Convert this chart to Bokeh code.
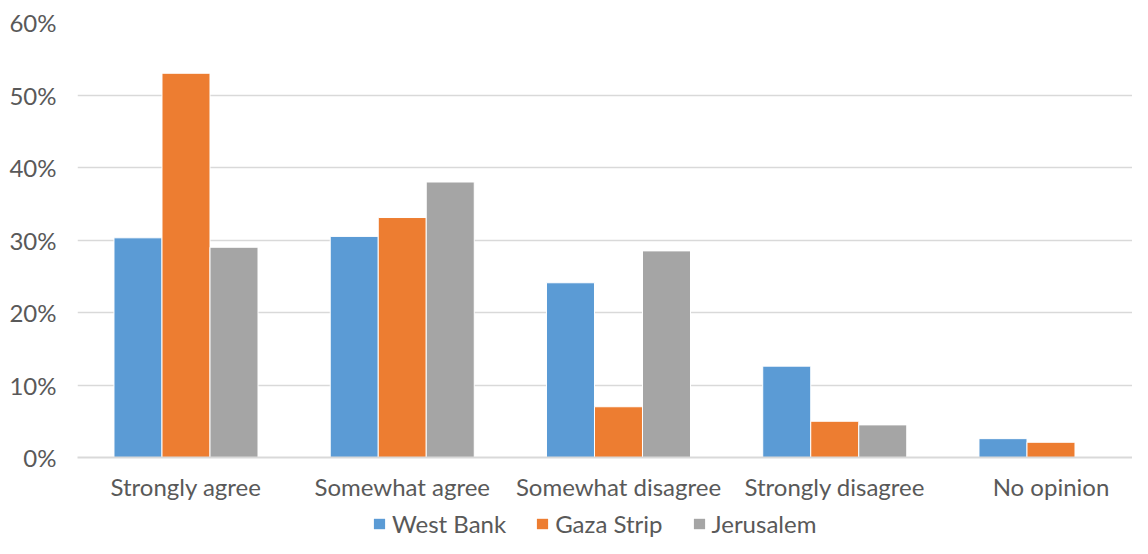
from bokeh.plotting import figure
from bokeh.layouts import column
from bokeh.models import ColumnDataSource, Range1d, Legend, LegendItem, PrintfTickFormatter, FixedTicker
from bokeh.transform import dodge
from bokeh.embed import file_html
from bokeh.resources import INLINE

categories = ["Strongly agree", "Somewhat agree", "Somewhat disagree", "Strongly disagree", "No opinion"]
west_bank = [30.3, 30.5, 24.1, 12.6, 2.6]
gaza_strip = [53.0, 33.1, 7.0, 5.0, 2.1]
jerusalem = [29.0, 38.0, 28.5, 4.5, 0.0]
series_names = ["West Bank", "Gaza Strip", "Jerusalem"]
colors = ["#5B9BD5", "#ED7D31", "#A5A5A5"]
y_ticks = [0, 10, 20, 30, 40, 50, 60]

pos = list(range(len(categories)))
src = ColumnDataSource(dict(pos=pos, wb=west_bank, gz=gaza_strip, je=jerusalem))

font = "Lato"
text_color = "#595959"
fs = "24px"

p = figure(x_range=Range1d(-0.5017, 4.3769), y_range=Range1d(0, 60),
           width=1132, height=503, output_backend="svg", toolbar_location=None,
           min_border_left=77, min_border_right=0, min_border_top=22, min_border_bottom=42)
p.outline_line_color = None

bw = 0.222
renderers = []
for col, off, c in zip(["wb", "gz", "je"], [-bw, 0, bw], colors):
    r = p.vbar(x=dodge("pos", off), top=col, width=bw, source=src,
               fill_color=c, line_color="white", line_width=1)
    renderers.append(r)

p.yaxis.ticker = FixedTicker(ticks=y_ticks)
p.yaxis.formatter = PrintfTickFormatter(format="%d%%")
p.yaxis.axis_line_color = None
p.yaxis.major_tick_line_color = None
p.yaxis.minor_tick_line_color = None
p.yaxis.major_label_text_font = font
p.yaxis.major_label_text_font_size = fs
p.yaxis.major_label_text_color = text_color
p.yaxis.major_label_standoff = 15

p.xaxis.ticker = FixedTicker(ticks=pos)
p.xaxis.major_label_overrides = {i: c for i, c in zip(pos, categories)}
p.xaxis.axis_line_color = "#D9D9D9"
p.xaxis.axis_line_width = 2
p.xaxis.major_tick_line_color = None
p.xaxis.minor_tick_line_color = None
p.xaxis.major_label_text_font = font
p.xaxis.major_label_text_font_size = fs
p.xaxis.major_label_text_color = text_color
p.xaxis.major_label_standoff = 8

p.xgrid.grid_line_color = None
p.ygrid.grid_line_color = "#D9D9D9"
p.ygrid.grid_line_width = 1.5

# legend strip below the chart (its frame is aligned with the chart's frame by the column layout)
lg = figure(width=1132, height=35, x_range=Range1d(0, 1), y_range=Range1d(0, 1),
            output_backend="svg", toolbar_location=None, x_axis_type=None, y_axis_type=None,
            min_border_left=77, min_border_right=0, min_border_top=0, min_border_bottom=0)
lg.outline_line_color = None
lg.xgrid.grid_line_color = None
lg.ygrid.grid_line_color = None
offscreen = ColumnDataSource(dict(x=[5], top=[5]))
lrs = [lg.vbar(x="x", top="top", width=0.1, source=offscreen, fill_color=c, line_color=None) for c in colors]
legend = Legend(items=[LegendItem(label=n, renderers=[r]) for n, r in zip(series_names, lrs)],
                orientation="horizontal", location=(295, 0),
                label_text_font=font, label_text_font_size=fs, label_text_color=text_color,
                glyph_width=14, glyph_height=13, spacing=29, label_standoff=6,
                border_line_color=None, background_fill_alpha=0, margin=0, padding=0)
lg.add_layout(legend, "center")

layout = column(p, lg, spacing=0)
open("out.html", "w").write(file_html(layout, INLINE))
